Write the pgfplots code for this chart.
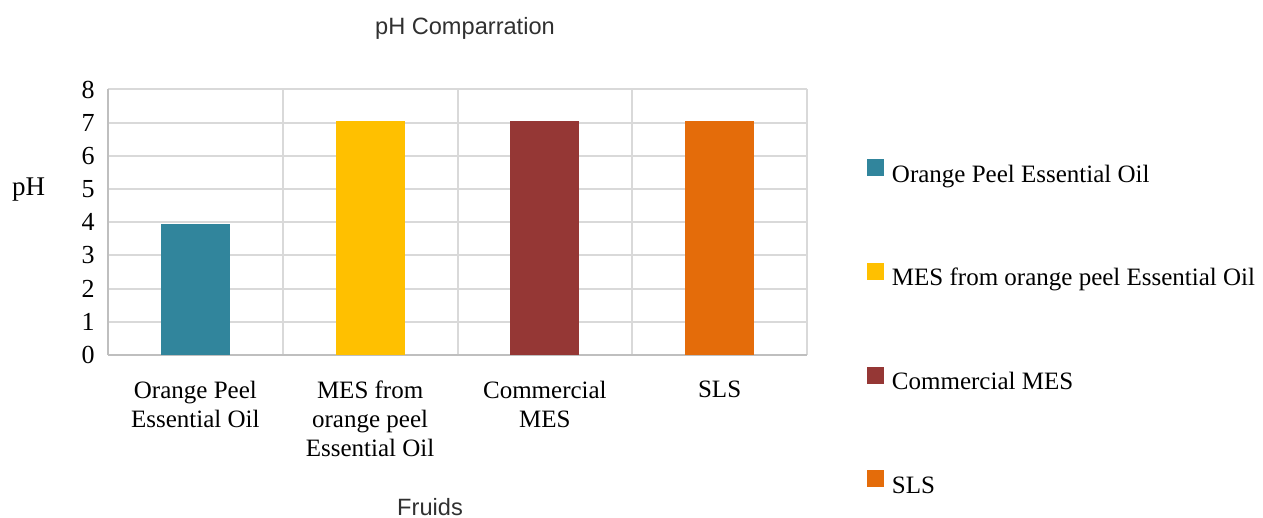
\documentclass[border=0pt]{standalone}
\usepackage{pgfplots}
\pgfplotsset{compat=1.18}
\usepackage{fontspec}
\setmainfont{Liberation Serif}
\newfontfamily\arial{Liberation Sans}
\definecolor{cTeal}{HTML}{31859C}
\definecolor{cYellow}{HTML}{FFC000}
\definecolor{cRed}{HTML}{953735}
\definecolor{cOrange}{HTML}{E46C0A}
\definecolor{gridgray}{HTML}{D9D9D9}
\definecolor{axisgray}{HTML}{BFBFBF}
\definecolor{titlegray}{HTML}{303030}
\begin{document}
\begin{tikzpicture}
\begin{axis}[
  name=ax,
  scale only axis,
  width=349.5pt, height=132.75pt,
  xmin=-0.5, xmax=3.5,
  ymin=0, ymax=8,
  ytick={0,1,2,3,4,5,6,7,8},
  xtick={0,1,2,3},
  xticklabels={{Orange Peel\\Essential Oil},{MES from\\orange peel\\Essential Oil},{Commercial\\MES},{SLS}},
  minor xtick={-0.5,0.5,1.5,2.5,3.5},
  ymajorgrids, xminorgrids,
  major grid style={draw=gridgray, line width=1pt},
  minor grid style={draw=gridgray, line width=1pt},
  major tick length=0pt, minor tick length=0pt,
  axis x line*=bottom, axis y line*=left,
  x axis line style={-, draw=axisgray, line width=1pt},
  y axis line style={-, draw=axisgray, line width=1pt},
  /pgf/number format/assume math mode=true,
  yticklabel style={font=\fontsize{13}{15}\selectfont, inner sep=0pt, anchor=east, xshift=-6.5pt},
  xticklabel style={font=\fontsize{12.5}{14.5}\selectfont, inner sep=0pt, anchor=north, align=center, yshift=-13pt},
  title={pH Comparration},
  every axis title shift=0pt,
  every axis title/.style={at={(rel axis cs:0.5107,1.232)}, anchor=center, font=\arial\fontsize{11.8}{13}\selectfont, text=titlegray},
  xlabel={Fruids},
  every axis x label/.style={at={(rel axis cs:0.4607,-0.5725)}, anchor=center, font=\arial\fontsize{11.8}{13}\selectfont, text=titlegray},
  ylabel={pH},
  every axis y label/.style={at={(rel axis cs:-0.1137,0.6215)}, anchor=center, font=\fontsize{13.5}{15}\selectfont},
  ybar, bar width=0.394,
  legend style={at={(rel axis cs:1.0858,0.7382)}, anchor=north west, draw=none, fill=none, inner sep=0pt, outer sep=0pt,
    row sep=37.4pt, column sep=4pt,
    nodes={inner sep=0pt, text height=9pt, text depth=3pt, font=\fontsize{12.5}{14}\selectfont}},
  legend cell align=left,
  legend image code/.code={\fill[#1, draw=none] (0pt,0pt) rectangle (8.5pt,8.5pt);},
]
\addplot[fill=cTeal, draw=none, bar shift=0pt] coordinates {(0,3.95)};
\addplot[fill=cYellow, draw=none, bar shift=0pt] coordinates {(1,7.05)};
\addplot[fill=cRed, draw=none, bar shift=0pt] coordinates {(2,7.05)};
\addplot[fill=cOrange, draw=none, bar shift=0pt] coordinates {(3,7.05)};
\legend{Orange Peel Essential Oil, MES from orange peel Essential Oil, Commercial MES, SLS}
\end{axis}
\pgfresetboundingbox
\path[use as bounding box] ([xshift=-54pt,yshift=-81.5pt]ax.south west) rectangle ([xshift=228pt,yshift=44.75pt]ax.north east);
\end{tikzpicture}
\end{document}
